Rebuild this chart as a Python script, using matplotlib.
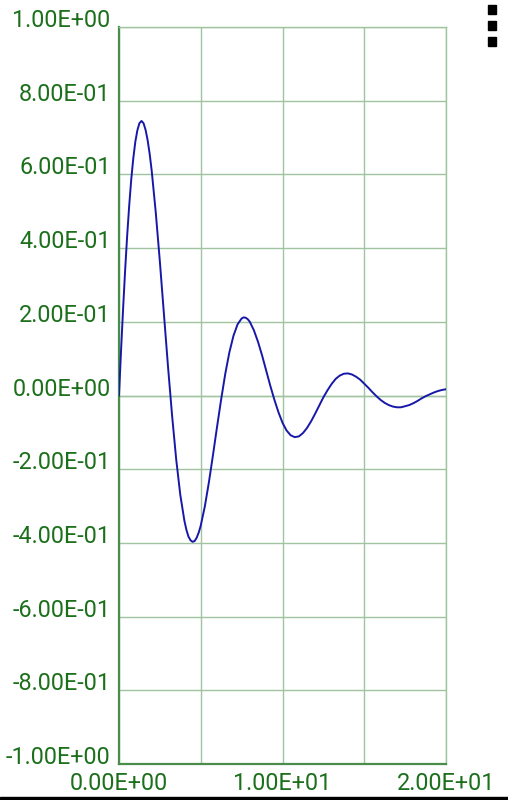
import matplotlib
matplotlib.use("Agg")
import matplotlib.pyplot as plt
from matplotlib.patches import Rectangle

plt.rcParams['font.family'] = ['Roboto', 'DejaVu Sans']

# curve values, x step 0.25 from 0 to 20
x_start, x_step = 0.0, 0.25
y_vals = [
    0.000, 0.235, 0.434, 0.587, 0.689, 0.739, 0.739, 0.693, 0.610, 0.496,
    0.363, 0.220, 0.077, -0.056, -0.174, -0.270, -0.340, -0.383, -0.397, -0.386,
    -0.353, -0.301, -0.235, -0.161, -0.084, -0.010, 0.059, 0.117, 0.162, 0.193,
    0.209, 0.211, 0.200, 0.177, 0.146, 0.109, 0.068, 0.027, -0.011, -0.045,
    -0.074, -0.095, -0.108, -0.113, -0.111, -0.102, -0.088, -0.070, -0.049, -0.027,
    -0.005, 0.014, 0.031, 0.045, 0.054, 0.059, 0.060, 0.057, 0.051, 0.043,
    0.032, 0.021, 0.009, -0.002, -0.012, -0.020, -0.026, -0.030, -0.032, -0.032,
    -0.029, -0.026, -0.021, -0.015, -0.008, -0.002, 0.003, 0.008, 0.012, 0.015,
    0.017,
]
# extra readings around the sharper turns
extra_x = [0.125, 0.375, 0.625, 0.875, 1.125, 1.375, 1.625, 1.875,
           4.125, 4.375, 4.625, 4.875, 7.625, 7.875]
extra_y = [0.122, 0.340, 0.516, 0.644, 0.720, 0.745, 0.721, 0.656,
           -0.365, -0.393, -0.395, -0.372, 0.212, 0.207]

pts = [(x_start + i * x_step, v) for i, v in enumerate(y_vals)] + list(zip(extra_x, extra_y))
pts.sort()
x_vals = [p[0] for p in pts]
y_line = [p[1] for p in pts]

x_grid = [0, 5, 10, 15, 20]
x_labeled = [0, 10, 20]
y_grid = [-1.0, -0.8, -0.6, -0.4, -0.2, 0.0, 0.2, 0.4, 0.6, 0.8, 1.0]

text_col = '#1c701c'
grid_col = '#9fc49f'
axis_col = '#4a8c4a'

W, H = 508, 800
fig = plt.figure(figsize=(W / 100, H / 100), dpi=100)
fig.patch.set_facecolor('white')
ax = fig.add_axes([119 / W, 1 - 764 / H, (446 - 119) / W, (764 - 27) / H])

ax.plot(x_vals, y_line, color='#1818a8', lw=1.4, zorder=3)
ax.set_xlim(0, 20)
ax.set_ylim(-1, 1)

ax.set_xticks(x_grid)
ax.set_xticklabels(['{:.2E}'.format(v) if v in x_labeled else '' for v in x_grid])
ax.set_yticks(y_grid)
ax.set_yticklabels(['{:.2E}'.format(v) for v in y_grid])
ax.tick_params(length=0, labelsize=16.8, labelcolor=text_col)
ax.tick_params(axis='y', pad=6)
ax.tick_params(axis='x', pad=6)
for lab in ax.get_yticklabels():
    lab.set_verticalalignment('baseline')

ax.grid(True, color=grid_col, lw=1.0)
for s in ['top', 'right']:
    ax.spines[s].set_color(grid_col)
    ax.spines[s].set_linewidth(1.0)
for s in ['left', 'bottom']:
    ax.spines[s].set_color(axis_col)
    ax.spines[s].set_linewidth(1.6)
ax.axhline(0, color=grid_col, lw=1.0, zorder=1)

# overflow menu dots and bottom bar
for cy in [9.5, 25.5, 41.5]:
    fig.patches.append(Rectangle(((492 - 4) / W, 1 - (cy + 4) / H), 8 / W, 8 / H,
                                 transform=fig.transFigure, color='black'))
fig.patches.append(Rectangle((0, 0), 1, 3 / H, transform=fig.transFigure, color='black'))

fig.savefig('out.png', dpi=100)
